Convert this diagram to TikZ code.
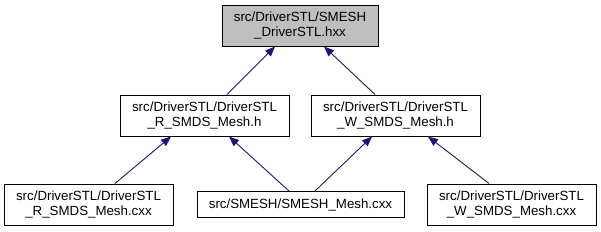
\documentclass[tikz,border=0pt]{standalone}
\usepackage{fontspec}
\setmainfont{Liberation Sans}
\usetikzlibrary{arrows.meta}
\definecolor{edgeblue}{HTML}{191970}
\definecolor{topgray}{HTML}{BFBFBF}
\begin{document}
\begin{tikzpicture}[x=1pt,y=-1pt,
  filebox/.style={draw=black, line width=1pt, fill=white, rectangle, inner sep=0pt,
    minimum height=41pt, align=center, font=\fontsize{13.3}{15.5}\selectfont},
  edge/.style={draw=edgeblue, line width=0.9pt,
    {Triangle[length=10pt,width=8pt,fill=edgeblue]}-}]
\useasboundingbox (0,0) rectangle (601,231);
\node[filebox, fill=topgray, minimum width=156pt] (top) at (300,25.5) {src/DriverSTL/SMESH\\\_DriverSTL.hxx};
\node[filebox, minimum width=169pt] (ml) at (204.5,115.5) {src/DriverSTL/DriverSTL\\\_R\_SMDS\_Mesh.h};
\node[filebox, minimum width=169pt] (mr) at (395.5,115.5) {src/DriverSTL/DriverSTL\\\_W\_SMDS\_Mesh.h};
\node[filebox, minimum width=169pt] (bl) at (88.5,204.5) {src/DriverSTL/DriverSTL\\\_R\_SMDS\_Mesh.cxx};
\node[filebox, minimum width=207pt, minimum height=26pt] (bm) at (300.5,204.5) {src/SMESH/SMESH\_Mesh.cxx};
\node[filebox, minimum width=169pt] (br) at (511.5,204.5) {src/DriverSTL/DriverSTL\\\_W\_SMDS\_Mesh.cxx};
\draw[edge] (top.south -| 275,0) -- (ml.north -| 227,0);
\draw[edge] (top.south -| 324,0) -- (mr.north -| 375,0);
\draw[edge] (ml.south -| 171,0) -- (bl.north -| 115,0);
\draw[edge] (ml.south -| 229,0) -- (bm.north -| 289,0);
\draw[edge] (mr.south -| 372,0) -- (bm.north -| 315,0);
\draw[edge] (mr.south -| 428,0) -- (br.north -| 489,0);
\end{tikzpicture}
\end{document}
